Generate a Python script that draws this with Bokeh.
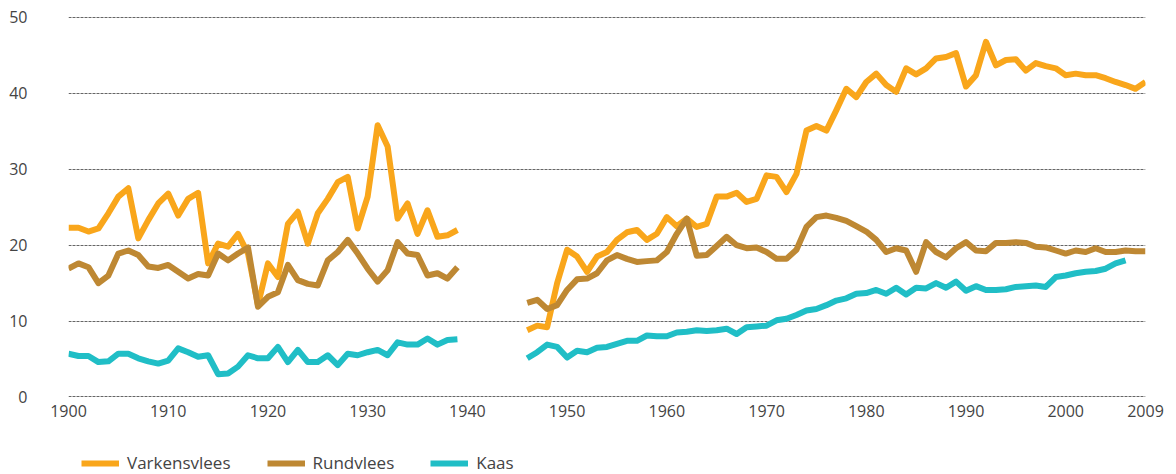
import math
from bokeh.plotting import figure
from bokeh.layouts import column
from bokeh.models import FixedTicker, Legend, LegendItem, ColumnDataSource, Range1d
from bokeh.embed import file_html
from bokeh.resources import INLINE

# ---- data (kg per person per year) ----
years_pre = list(range(1900, 1940))
varkensvlees_pre = [22.3, 22.3, 21.8, 22.2, 24.2, 26.4, 27.5, 20.9, 23.3, 25.5,
                    26.8, 23.9, 26.1, 26.9, 17.6, 20.2, 19.8, 21.5, 18.9, 12.1,
                    17.6, 15.8, 22.8, 24.4, 20.2, 24.2, 26.1, 28.3, 29.0, 22.2,
                    26.4, 35.8, 33.0, 23.5, 25.5, 21.5, 24.6, 21.1, 21.3, 22.0]
rundvlees_pre = [16.9, 17.6, 17.1, 15.0, 16.0, 18.9, 19.3, 18.7, 17.2, 17.0,
                 17.4, 16.5, 15.6, 16.2, 16.0, 18.9, 18.0, 18.9, 19.7, 11.9,
                 13.2, 13.8, 17.4, 15.4, 14.9, 14.7, 18.0, 19.1, 20.7, 18.9,
                 16.9, 15.2, 16.7, 20.4, 18.9, 18.7, 16.0, 16.3, 15.6, 17.1]
kaas_pre = [5.7, 5.4, 5.4, 4.6, 4.7, 5.7, 5.7, 5.1, 4.7, 4.4,
            4.8, 6.4, 5.9, 5.3, 5.5, 3.0, 3.1, 4.0, 5.5, 5.1,
            5.1, 6.6, 4.6, 6.2, 4.6, 4.6, 5.5, 4.2, 5.7, 5.5,
            5.9, 6.2, 5.5, 7.2, 6.9, 6.9, 7.7, 6.9, 7.5, 7.6]

years_post = list(range(1946, 2009))
varkensvlees_post = [8.8, 9.4, 9.2, 15.0, 19.4, 18.5, 16.5, 18.5, 19.1, 20.7,
                     21.7, 22.0, 20.7, 21.5, 23.7, 22.5, 23.5, 22.4, 22.8, 26.4,
                     26.4, 26.9, 25.7, 26.1, 29.2, 29.0, 27.0, 29.4, 35.1, 35.7,
                     35.1, 37.8, 40.6, 39.5, 41.5, 42.6, 41.1, 40.2, 43.3, 42.5,
                     43.3, 44.6, 44.8, 45.3, 40.9, 42.4, 46.8, 43.7, 44.4, 44.5,
                     43.0, 44.0, 43.6, 43.3, 42.4, 42.6, 42.4, 42.4, 42.0, 41.5,
                     41.1, 40.6, 41.5]
rundvlees_post = [12.4, 12.8, 11.6, 12.1, 14.1, 15.5, 15.6, 16.3, 18.0, 18.7,
                  18.2, 17.8, 17.9, 18.0, 19.1, 21.5, 23.5, 18.6, 18.7, 19.9,
                  21.1, 20.0, 19.6, 19.7, 19.1, 18.2, 18.2, 19.4, 22.4, 23.7,
                  23.9, 23.6, 23.2, 22.5, 21.8, 20.7, 19.1, 19.6, 19.3, 16.5,
                  20.4, 19.1, 18.4, 19.6, 20.4, 19.3, 19.2, 20.3, 20.3, 20.4,
                  20.3, 19.8, 19.7, 19.3, 18.9, 19.3, 19.1, 19.6, 19.1, 19.1,
                  19.3, 19.2, 19.2]
years_kaas_post = list(range(1946, 2007))
kaas_post = [5.1, 5.9, 6.9, 6.6, 5.2, 6.1, 5.9, 6.5, 6.6, 7.0,
             7.4, 7.4, 8.1, 8.0, 8.0, 8.5, 8.6, 8.8, 8.7, 8.8,
             9.0, 8.3, 9.2, 9.3, 9.4, 10.1, 10.3, 10.8, 11.4, 11.6,
             12.1, 12.7, 13.0, 13.6, 13.7, 14.1, 13.6, 14.4, 13.5, 14.4,
             14.3, 15.0, 14.4, 15.2, 14.0, 14.6, 14.1, 14.1, 14.2, 14.5,
             14.6, 14.7, 14.5, 15.8, 16.0, 16.3, 16.5, 16.6, 16.9, 17.6,
             18.0]

series_names = ["Varkensvlees", "Rundvlees", "Kaas"]
series_colors = ["#F9A61B", "#BE8833", "#20BEC6"]
y_ticks = [0, 10, 20, 30, 40, 50]
x_ticks = [1900, 1910, 1920, 1930, 1940, 1950, 1960, 1970, 1980, 1990, 2000, 2008]
x_end_label = "2009"

nan = float("nan")


def joined(a, b):
    return list(a) + [nan] + list(b)


sources = [
    ColumnDataSource(dict(x=joined(years_pre, years_post),
                          y=joined(varkensvlees_pre, varkensvlees_post))),
    ColumnDataSource(dict(x=joined(years_pre, years_post),
                          y=joined(rundvlees_pre, rundvlees_post))),
    ColumnDataSource(dict(x=joined(years_pre, years_kaas_post),
                          y=joined(kaas_pre, kaas_post))),
]

p = figure(width=1176, height=440, output_backend="svg", toolbar_location=None,
           x_range=Range1d(1900, 2008), y_range=Range1d(-0.33, 50.26),
           min_border_left=68, min_border_right=31, min_border_top=15,
           min_border_bottom=41, title=None)
p.outline_line_color = None
p.background_fill_color = "white"
p.border_fill_color = "white"

for src, col in zip(sources, series_colors):
    p.line("x", "y", source=src, line_width=6, line_color=col, line_join="round")

FONT = "Open Sans"
for ax in (p.xaxis[0], p.yaxis[0]):
    ax.axis_line_color = None
    ax.major_tick_line_color = None
    ax.minor_tick_line_color = None
    ax.major_tick_out = 0
    ax.major_tick_in = 0
    ax.minor_tick_out = 0
    ax.major_label_text_font = FONT
    ax.major_label_text_font_size = "16px"
    ax.major_label_text_color = "#444444"

p.xaxis[0].ticker = FixedTicker(ticks=x_ticks)
p.xaxis[0].major_label_overrides = {2008: x_end_label}
p.xaxis[0].major_label_standoff = 5
p.yaxis[0].ticker = FixedTicker(ticks=y_ticks)
p.yaxis[0].major_label_standoff = 41

p.xgrid.grid_line_color = None
p.ygrid.grid_line_color = "#666666"
p.ygrid.grid_line_width = 1
p.ygrid.grid_line_dash = "3 1"

# ---- legend strip below the chart (series drawn out of view; only the key shows) ----
q = figure(width=1176, height=34, output_backend="svg", toolbar_location=None,
           x_range=Range1d(0, 1), y_range=Range1d(0, 1),
           x_axis_type=None, y_axis_type=None, title=None,
           min_border_left=0, min_border_right=0, min_border_top=0,
           min_border_bottom=0)
q.outline_line_color = None
q.grid.visible = False
swatches = [q.line("x", "y", source=src, line_width=6, line_color=c)
            for src, c in zip(sources, series_colors)]

legend = Legend(
    items=[LegendItem(label=n, renderers=[r]) for n, r in zip(series_names, swatches)],
    location=(13, 0), orientation="horizontal",
    glyph_width=38, glyph_height=8, label_standoff=8, spacing=36,
    padding=0, margin=0, border_line_color=None, background_fill_alpha=0,
    label_text_font=FONT, label_text_font_size="17px", label_text_color="#444444",
)
q.add_layout(legend)

layout = column(p, q, spacing=0)
open("out.html", "w").write(file_html(layout, INLINE))
